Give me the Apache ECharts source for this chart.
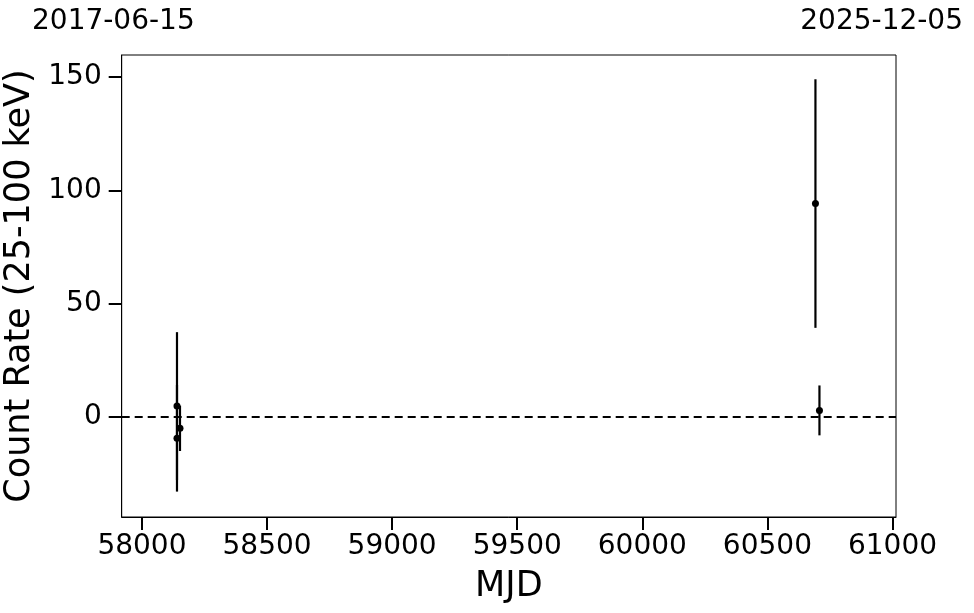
<!DOCTYPE html>
<html>
<head>
<meta charset="utf-8">
<script src="https://cdn.jsdelivr.net/npm/echarts@6/dist/echarts.min.js"></script>
<style>
html,body{margin:0;padding:0;background:#fff;}
#chart{width:974px;height:613px;}
</style>
</head>
<body>
<div id="chart"></div>
<script>
// Data
const mjd = [58140, 58152, 58140, 60692, 60708];
const rate = [4.9, -4.9, -9.3, 94.2, 3.0];
const rateErr = [32.6, 10, 23.5, 54.8, 11];
const xTicks = [58000, 58500, 59000, 59500, 60000, 60500, 61000];
const yTicks = [0, 50, 100, 150];
const xRange = [57919, 61014];
const yRange = [-44, 159.7];
const dateLabels = ['2017-06-15', '2025-12-05'];

const FONT = 'DejaVu Sans';
const chart = echarts.init(document.getElementById('chart'), null, {renderer: 'canvas'});

const pts = mjd.map((m, i) => [m, rate[i]]);
const errData = mjd.map((m, i) => [m, rate[i] - rateErr[i], rate[i] + rateErr[i]]);

chart.setOption({
  animation: false,
  backgroundColor: '#fff',
  grid: {left: 121.7, right: 78, top: 55, bottom: 96, containLabel: false, outerBoundsMode: 'none',
         show: true, borderColor: '#000', borderWidth: 1, backgroundColor: 'transparent'},
  xAxis: {
    type: 'value', min: xRange[0], max: xRange[1],
    name: 'MJD', nameLocation: 'middle', nameGap: 52,
    nameTextStyle: {fontFamily: FONT, fontSize: 35, color: '#000'},
    axisLine: {show: true, onZero: false, lineStyle: {color: '#000', width: 1}},
    axisTick: {show: true, inside: false, length: 13, lineStyle: {color: '#000', width: 2}, customValues: xTicks},
    axisLabel: {fontFamily: FONT, fontSize: 28, color: '#000', margin: 16, customValues: xTicks, formatter: v => String(v)},
    splitLine: {show: false}
  },
  yAxis: {
    type: 'value', min: yRange[0], max: yRange[1],
    name: 'Count Rate (25-100 keV)', nameLocation: 'middle', nameGap: 70,
    nameTextStyle: {fontFamily: FONT, fontSize: 35, color: '#000'},
    axisLine: {show: true, onZero: false, lineStyle: {color: '#000', width: 1}},
    axisTick: {show: true, inside: false, length: 13, lineStyle: {color: '#000', width: 2}, customValues: yTicks},
    axisLabel: {fontFamily: FONT, fontSize: 28, color: '#000', margin: 20, customValues: yTicks, formatter: v => String(v)},
    splitLine: {show: false}
  },
  graphic: [
    {type: 'text', left: 32, top: 8, style: {text: dateLabels[0], font: '28px "DejaVu Sans"', fill: '#000'}},
    {type: 'text', right: 11, top: 8, style: {text: dateLabels[1], font: '28px "DejaVu Sans"', fill: '#000'}}
  ],
  series: [
    {
      type: 'custom',
      data: errData,
      encode: {x: 0, y: [1, 2]},
      renderItem: function (params, api) {
        const lo = api.coord([api.value(0), api.value(1)]);
        const hi = api.coord([api.value(0), api.value(2)]);
        return {type: 'line', shape: {x1: lo[0], y1: lo[1], x2: hi[0], y2: hi[1]}, style: {stroke: '#000', lineWidth: 2.2}};
      },
      z: 2
    },
    {
      type: 'scatter',
      data: pts,
      symbol: 'circle',
      symbolSize: 7,
      itemStyle: {color: '#000', opacity: 1},
      z: 3,
      markLine: {
        silent: true,
        symbol: 'none',
        label: {show: false},
        lineStyle: {color: '#000', width: 1.8, type: [8, 5], opacity: 1},
        data: [{yAxis: 0}]
      }
    }
  ]
});
</script>
</body>
</html>
